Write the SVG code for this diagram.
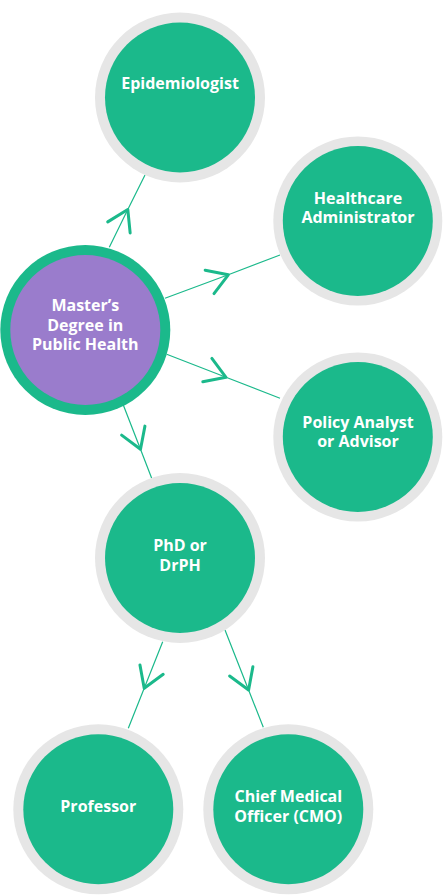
<svg xmlns="http://www.w3.org/2000/svg" width="443" height="895" viewBox="0 0 443 895">
  <style>
    .ring { fill: #e6e6e6; }
    .core { fill: #1bb98b; }
    .mring { fill: #1bb98b; }
    .mcore { fill: #9a7ccc; }
    .lbl { font-family: "Open Sans", "Liberation Sans", sans-serif; font-weight: 700; font-size: 16px; fill: #ffffff; text-anchor: middle; }
    .edge { fill: none; stroke: #1bb98b; stroke-width: 1.2; marker-mid: url(#chev); }
  </style>
  <defs>
    <marker id="chev" markerUnits="userSpaceOnUse" viewBox="-24 -16 28 32" markerWidth="28" markerHeight="32" refX="0" refY="0" orient="auto" overflow="visible">
      <path d="M-20,-12.5 L0,0 L-20,12.5" fill="none" stroke="#1bb98b" stroke-width="3" stroke-linecap="round" stroke-linejoin="round"/>
    </marker>
  </defs>
  <rect width="443" height="895" fill="#ffffff"/>
  <g id="connectors">
    <path class="edge" d="M109.3,247.3 L127.8,209.5 L145,175"/>
    <path class="edge" d="M165,298.3 L228.3,274.8 L280,255"/>
    <path class="edge" d="M166.7,354.3 L226,377.3 L280,398.3"/>
    <path class="edge" d="M123.3,405 L140.5,449.3 L151.7,478.3"/>
    <path class="edge" d="M162.7,641.7 L144.2,688.3 L128.3,728.3"/>
    <path class="edge" d="M225,630 L248.6,690 L263.3,727.3"/>
  </g>
  <g id="epidemiologist">
    <circle class="ring" cx="180" cy="97.5" r="85"/>
    <circle class="core" cx="180" cy="97.5" r="75"/>
    <text class="lbl" x="180" y="89.3">Epidemiologist</text>
  </g>
  <g id="healthcare-administrator">
    <circle class="ring" cx="357.8" cy="221" r="84.5"/>
    <circle class="core" cx="357.8" cy="221" r="75"/>
    <text class="lbl" x="358" y="204">Healthcare</text>
    <text class="lbl" x="358" y="223.3">Administrator</text>
  </g>
  <g id="masters-degree">
    <circle class="mring" cx="85.3" cy="330" r="85"/>
    <circle class="mcore" cx="85.3" cy="330" r="75"/>
    <text class="lbl" x="85.3" y="311">Master’s</text>
    <text class="lbl" x="85.3" y="330.7">Degree in</text>
    <text class="lbl" x="85.3" y="350.3">Public Health</text>
  </g>
  <g id="policy-analyst">
    <circle class="ring" cx="357.8" cy="437" r="84.5"/>
    <circle class="core" cx="357.8" cy="437" r="75"/>
    <text class="lbl" x="358" y="427.7">Policy Analyst</text>
    <text class="lbl" x="358" y="446.7">or Advisor</text>
  </g>
  <g id="phd-drph">
    <circle class="ring" cx="180" cy="558" r="85"/>
    <circle class="core" cx="180" cy="558" r="75"/>
    <text class="lbl" x="180" y="551">PhD or</text>
    <text class="lbl" x="180" y="571">DrPH</text>
  </g>
  <g id="professor">
    <circle class="ring" cx="98.3" cy="809.3" r="85"/>
    <circle class="core" cx="98.3" cy="809.3" r="75"/>
    <text class="lbl" x="98.3" y="811.7">Professor</text>
  </g>
  <g id="chief-medical-officer">
    <circle class="ring" cx="288.3" cy="809.3" r="85"/>
    <circle class="core" cx="288.3" cy="809.3" r="75"/>
    <text class="lbl" x="288.3" y="801.7">Chief Medical</text>
    <text class="lbl" x="288.3" y="821.7">Officer (CMO)</text>
  </g>
</svg>
